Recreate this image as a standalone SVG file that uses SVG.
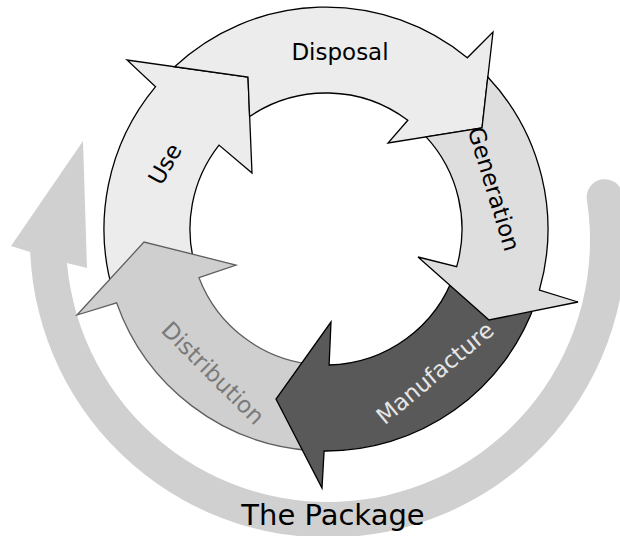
<svg xmlns="http://www.w3.org/2000/svg" width="620" height="536" viewBox="0 0 620 536">
<style>
.seg{stroke-width:1.3;stroke-linejoin:miter;stroke:#000}
.lbl{font-family:"DejaVu Sans",Verdana,"Liberation Sans",sans-serif;font-size:23px;text-anchor:middle}
</style>
<rect width="620" height="536" fill="#fff"/>
<g id="connectors">
<path id="package-cycle" d="M586.9,199.9 A18,18 0 0 1 622.5,194.4 A298,298 0 1 1 30.2,252 L11,246 L83,141 L87,268 L67,263 A262,262 0 1 0 586.9,199.9 Z" fill="#d0d0d0"/>
</g>
<g id="use">
<path class="seg" d="M113.7,293.9 A222,222 0 0 1 155.6,86.7 L127,60 L248,77 L252,173 L219,145.1 A136,136 0 0 0 195.9,268.8 Z" fill="#ececec"/>
<text class="lbl" transform="translate(165,164) rotate(-60)" y="8" fill="#000">Use</text>
</g>
<g id="distribution">
<path class="seg" d="M310.5,450.5 A222,222 0 0 1 116.6,302.8 L77,315 L144,242 L236,265 L199,277.7 A136,136 0 0 0 316.5,364.7 Z" fill="#cfcfcf" style="stroke:#5f5f5f"/>
<text class="lbl" transform="translate(213,373) rotate(45)" y="8" fill="#7a7a7a">Distribution</text>
</g>
<g id="manufacture">
<path class="seg" d="M535.9,301.3 A222,222 0 0 1 324.1,451 L322,488 L276,399 L331,322 L329.1,365 A136,136 0 0 0 454.6,273.3 Z" fill="#595959"/>
<text class="lbl" transform="translate(435,373) rotate(-40)" y="8" fill="#e6e6e6">Manufacture</text>
</g>
<g id="disposal">
<path class="seg" d="M174.6,66.7 A222,222 0 0 1 467.3,57.8 L493,32 L482,128 L388,143 L407.8,120.3 A136,136 0 0 0 249.6,116.5 L248,77 Z" fill="#ececec"/>
<text class="lbl" x="340" y="60" fill="#000">Disposal</text>
</g>
<g id="generation">
<path class="seg" d="M487.8,77 A222,222 0 0 1 539.4,290 L578,302 L489,320 L418,257 L456.7,266.6 A136,136 0 0 0 426.1,136.9 L482,128 Z" fill="#dedede"/>
<text class="lbl" transform="translate(494,189) rotate(73)" y="8" fill="#000">Generation</text>
</g>
<text id="title" x="333" y="525" font-family="DejaVu Sans,Verdana,sans-serif" font-size="29" text-anchor="middle" fill="#000">The Package</text>
</svg>
